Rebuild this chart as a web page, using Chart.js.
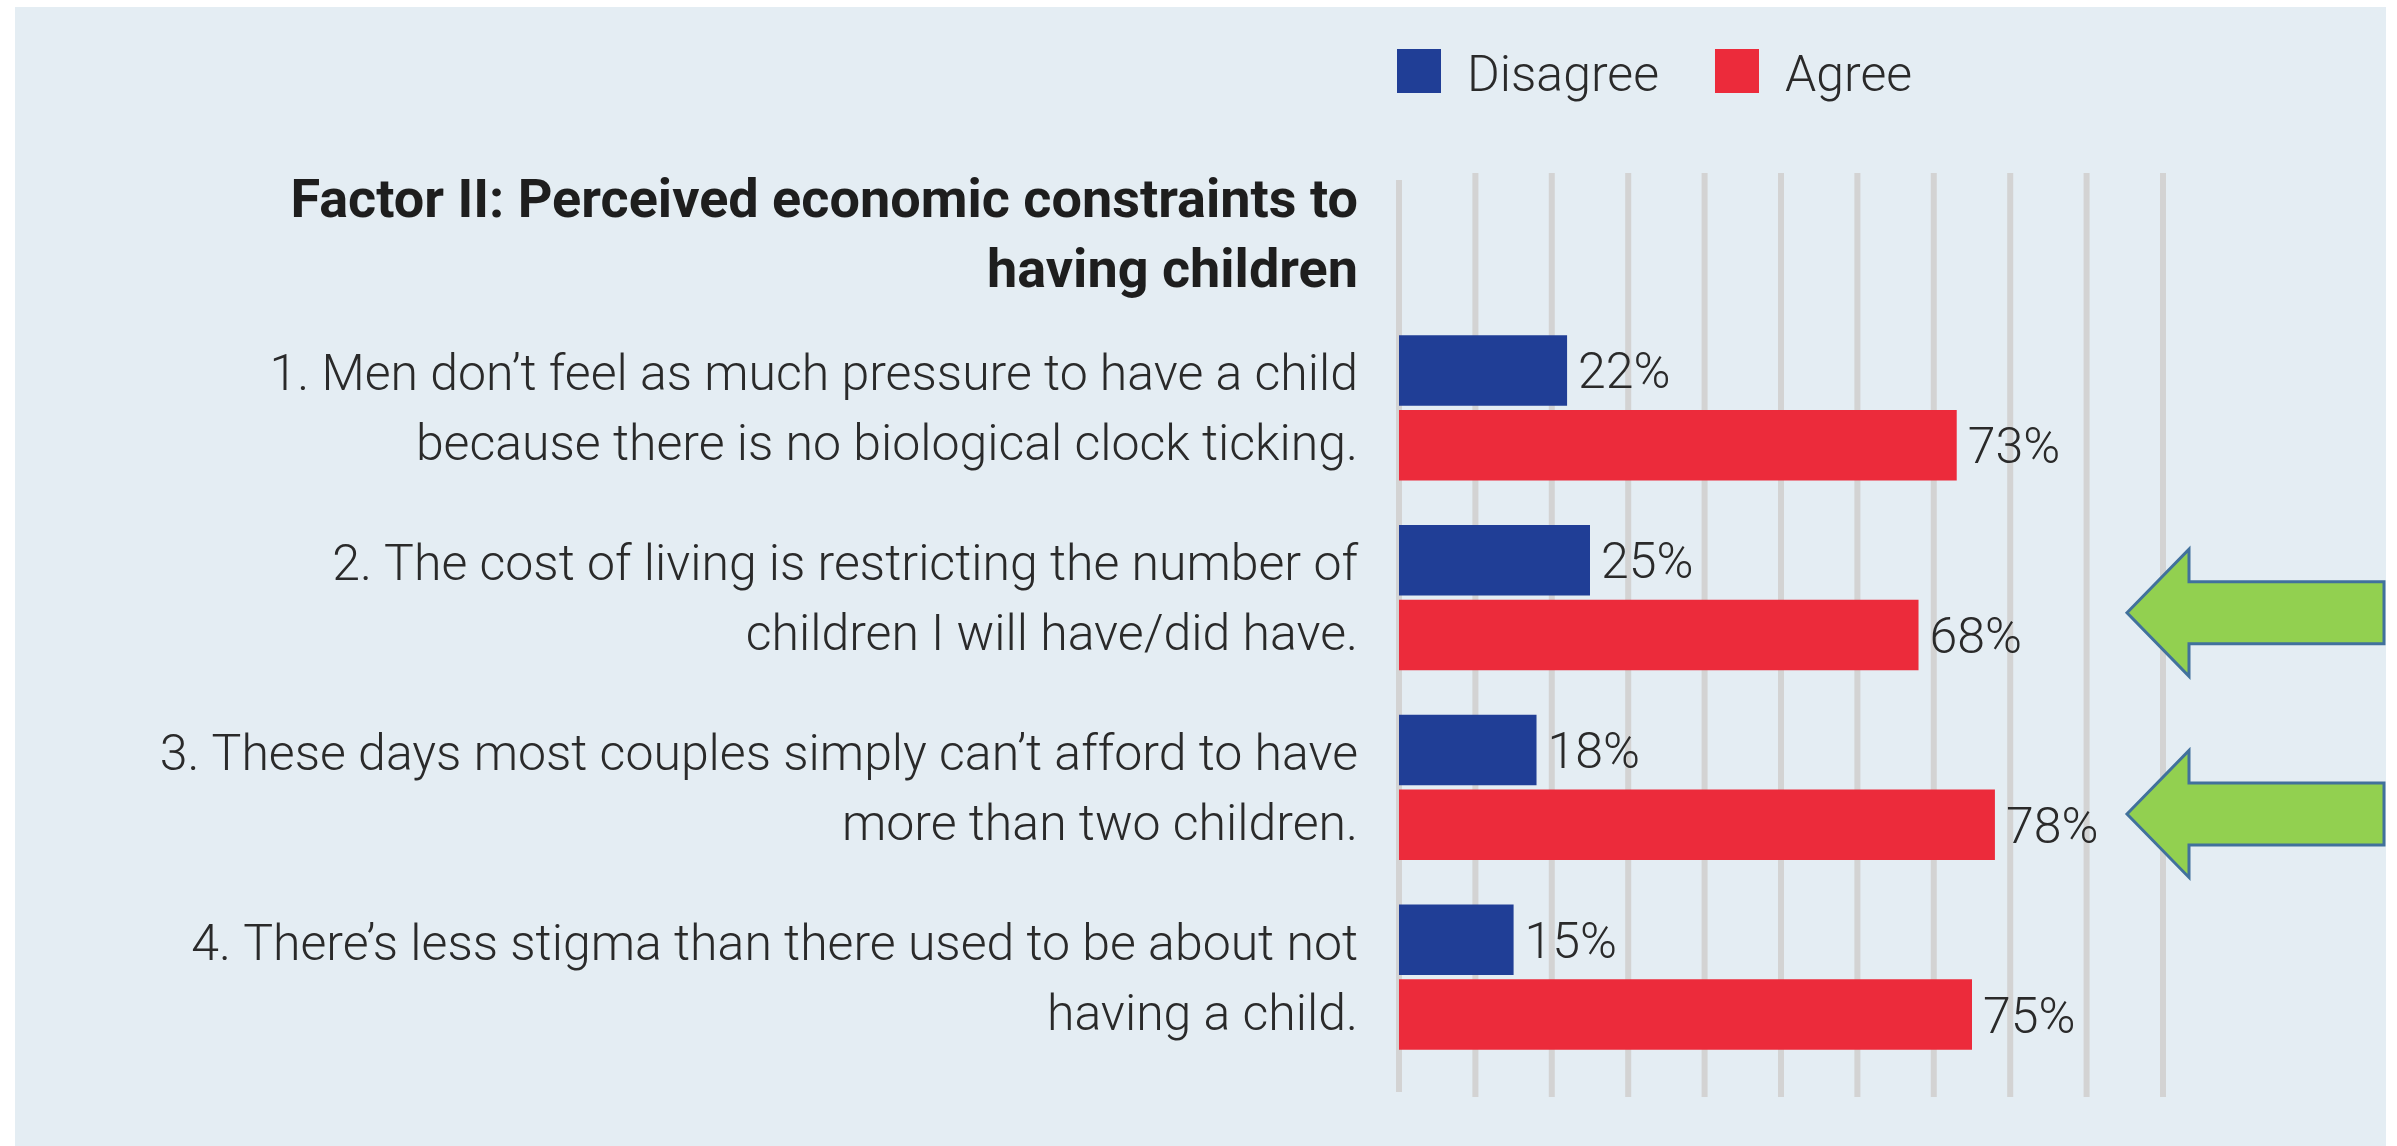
<!DOCTYPE html>
<html>
<head>
<meta charset="utf-8">
<title>Factor II: Perceived economic constraints to having children</title>
<script src="https://cdn.jsdelivr.net/npm/chart.js@4.4.1/dist/chart.umd.min.js"></script>
<style>
  html, body { margin: 0; padding: 0; background: #ffffff; }
  #wrap { width: 2397px; height: 1146px; }
</style>
</head>
<body>
<div id="wrap"><canvas id="chart" width="2397" height="1146"></canvas></div>
<script>
// statements, one row each (two lines per label)
const categories = [
  ['1. Men don\u2019t feel as much pressure to have a child', 'because there is no biological clock ticking.'],
  ['2. The cost of living is restricting the number of', 'children I will have/did have.'],
  ['3. These days most couples simply can\u2019t afford to have', 'more than two children.'],
  ['4. There\u2019s less stigma than there used to be about not', 'having a child.']
];

const disagree = [22, 25, 18, 15];
const agree = [73, 68, 78, 75];

const seriesNames = ['Disagree', 'Agree'];
const titleLines = ['Factor II: Perceived economic constraints to', 'having children'];

const BLUE = '#203e96';
const RED = '#ec2b3b';
const TEXT = '#2a2a2a';
const FONT = 'Roboto, "Noto Sans", sans-serif';

// light panel behind everything
const panel = {
  id: 'panel',
  beforeDraw(chart) {
    const ctx = chart.ctx;
    ctx.save();
    ctx.fillStyle = '#ffffff';
    ctx.fillRect(0, 0, chart.width, chart.height);
    ctx.fillStyle = '#e4edf3';
    ctx.fillRect(15, 7, 2371, chart.height - 7);
    ctx.restore();
  }
};

// tall vertical grid, running above and below the bars
const tallGrid = {
  id: 'tallGrid',
  beforeDatasetsDraw(chart) {
    const {ctx, chartArea, scales: {x}} = chart;
    ctx.save();
    ctx.strokeStyle = '#d3d3d3';
    ctx.lineWidth = 6;
    x.ticks.forEach(t => {
      const px = x.getPixelForValue(t.value);
      const top = t.value === 0 ? chartArea.top - 133 : chartArea.top - 140;
      const bottom = t.value === 0 ? chartArea.bottom + 20 : chartArea.bottom + 25;
      ctx.beginPath();
      ctx.moveTo(px, top);
      ctx.lineTo(px, bottom);
      ctx.stroke();
    });
    ctx.restore();
  }
};

// "22%" style labels at the end of each bar
const valueLabels = {
  id: 'valueLabels',
  afterDatasetsDraw(chart) {
    const ctx = chart.ctx;
    ctx.save();
    ctx.font = '300 50px ' + FONT;
    ctx.fillStyle = TEXT;
    ctx.textAlign = 'left';
    ctx.textBaseline = 'alphabetic';
    chart.data.datasets.forEach((ds, i) => {
      chart.getDatasetMeta(i).data.forEach((bar, j) => {
        ctx.fillText(ds.data[j] + '%', bar.x + 11, bar.y + 18);
      });
    });
    ctx.restore();
  }
};

// bold heading above the statements
const heading = {
  id: 'heading',
  afterDraw(chart) {
    const {ctx, chartArea} = chart;
    ctx.save();
    ctx.font = 'bold 54px ' + FONT;
    ctx.fillStyle = '#1e1e1e';
    ctx.textAlign = 'right';
    ctx.textBaseline = 'alphabetic';
    const right = chartArea.left - 41;
    titleLines.forEach((line, i) => {
      ctx.fillText(line, right, chartArea.top - 96 + i * 70);
    });
    ctx.restore();
  }
};

// legend row above the grid
const legendRow = {
  id: 'legendRow',
  afterDraw(chart) {
    const {ctx, chartArea} = chart;
    ctx.save();
    ctx.font = '300 50px ' + FONT;
    ctx.textAlign = 'left';
    ctx.textBaseline = 'alphabetic';
    let x = chartArea.left - 2;
    chart.data.datasets.forEach(ds => {
      ctx.fillStyle = ds.backgroundColor;
      ctx.fillRect(x, 49, 44, 44);
      ctx.fillStyle = TEXT;
      ctx.fillText(ds.label, x + 70, 91);
      x += 70 + ctx.measureText(ds.label).width + 56;
    });
    ctx.restore();
  }
};

// green call-out arrows pointing at rows 2 and 3
const arrows = [{row: 1.08}, {row: 2.14}];
const calloutArrows = {
  id: 'calloutArrows',
  afterDraw(chart) {
    const {ctx, chartArea, scales: {y}} = chart;
    const tip = chartArea.right - 36;
    const neck = chartArea.right + 26;
    const end = chartArea.right + 221;
    ctx.save();
    ctx.fillStyle = '#92d050';
    ctx.strokeStyle = '#41719c';
    ctx.lineWidth = 3;
    ctx.lineJoin = 'miter';
    arrows.forEach(a => {
      const cy = y.getPixelForValue(a.row);
      ctx.beginPath();
      ctx.moveTo(tip, cy);
      ctx.lineTo(neck, cy - 63.5);
      ctx.lineTo(neck, cy - 31);
      ctx.lineTo(end, cy - 31);
      ctx.lineTo(end, cy + 31);
      ctx.lineTo(neck, cy + 31);
      ctx.lineTo(neck, cy + 63.5);
      ctx.closePath();
      ctx.fill();
      ctx.stroke();
    });
    ctx.restore();
  }
};

new Chart(document.getElementById('chart'), {
  type: 'bar',
  data: {
    labels: categories,
    datasets: [
      {label: seriesNames[0], data: disagree, backgroundColor: BLUE},
      {label: seriesNames[1], data: agree, backgroundColor: RED}
    ]
  },
  options: {
    indexAxis: 'y',
    responsive: false,
    devicePixelRatio: 1,
    animation: false,
    categoryPercentage: 0.789,
    barPercentage: 0.94,
    layout: {padding: {top: 313, bottom: 74, left: 0, right: 234}},
    plugins: {
      legend: {display: false},
      tooltip: {enabled: false}
    },
    scales: {
      x: {
        display: false,
        min: 0,
        max: 100,
        ticks: {stepSize: 10}
      },
      y: {
        grid: {display: false, drawTicks: false},
        border: {display: false},
        ticks: {
          autoSkip: false,
          padding: 41,
          labelOffset: 5,
          color: TEXT,
          font: {family: FONT, size: 50, weight: 300, lineHeight: 1.4}
        },
        afterFit(scale) {
          // fixed label column; labels sit inside the category bands
          scale.width = 1399;
          scale.paddingTop = 0;
          scale.paddingBottom = 0;
        }
      }
    }
  },
  plugins: [panel, tallGrid, valueLabels, heading, legendRow, calloutArrows]
});
</script>
</body>
</html>
